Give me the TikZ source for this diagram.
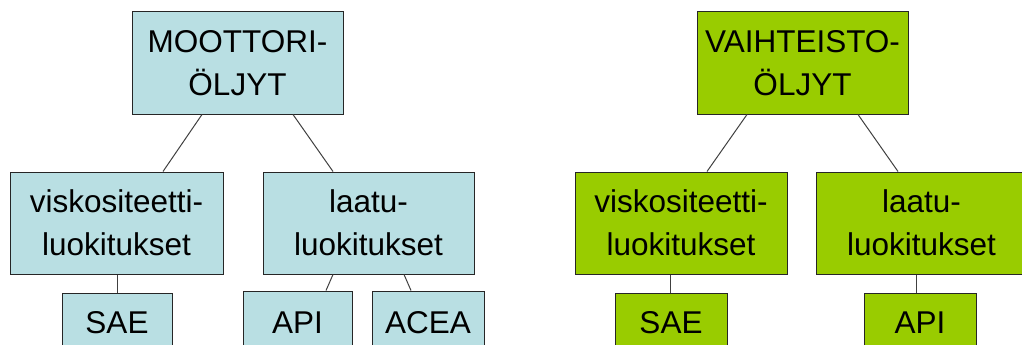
\documentclass[tikz,border=0pt]{standalone}
\usepackage{fontspec}
\setmainfont{Liberation Sans}
\definecolor{oilblue}{HTML}{B9DFE3}
\definecolor{oilgreen}{HTML}{99CC00}
\definecolor{linkgray}{HTML}{404040}
\tikzset{
  box/.style={draw=black!85, line width=1pt, inner sep=0pt, align=center,
    font=\fontsize{31.5}{43}\selectfont, anchor=center},
  bluebox/.style={box, fill=oilblue},
  greenbox/.style={box, fill=oilgreen},
  link/.style={draw=linkgray, line width=1pt}
}
\begin{document}
\begin{tikzpicture}[x=1pt, y=-1pt]
\useasboundingbox (0,0) rectangle (1022,345);
\clip (0,0) rectangle (1022,345);
% left tree
\node[bluebox, minimum width=211pt, minimum height=102pt] (m) at (237.5,63) {MOOTTORI-\\ÖLJYT};
\node[bluebox, minimum width=213pt, minimum height=102pt] (mv) at (116.5,223) {viskositeetti-\\luokitukset};
\node[bluebox, minimum width=211pt, minimum height=102pt] (ml) at (368.5,223) {laatu-\\luokitukset};
\node[bluebox, minimum width=110pt, minimum height=60pt] (msae) at (117,323) {SAE};
\node[bluebox, minimum width=109pt, minimum height=64pt] (mapi) at (297.5,323) {API};
\node[bluebox, minimum width=112pt, minimum height=64pt] (macea) at (428,323) {ACEA};
% right tree
\node[greenbox, minimum width=211pt, minimum height=102pt] (v) at (802.5,63) {VAIHTEISTO-\\ÖLJYT};
\node[greenbox, minimum width=212pt, minimum height=102pt] (vv) at (681,223) {viskositeetti-\\luokitukset};
\node[greenbox, minimum width=211pt, minimum height=102pt] (vl) at (921.5,223) {laatu-\\luokitukset};
\node[greenbox, minimum width=112pt, minimum height=60pt] (vsae) at (671,323) {SAE};
\node[greenbox, minimum width=112pt, minimum height=60pt] (vapi) at (920,323) {API};
% connectors
\draw[link] ([xshift=-35.5pt]m.south) -- ([xshift=46.5pt]mv.north);
\draw[link] ([xshift=55.5pt]m.south) -- ([xshift=-35.5pt]ml.north);
\draw[link] (msae.north) -- (msae.north |- mv.south);
\draw[link] ([xshift=-35.5pt]ml.south) -- ([xshift=28.5pt]mapi.north);
\draw[link] ([xshift=35.5pt]ml.south) -- ([xshift=-17pt]macea.north);
\draw[link] ([xshift=-55.5pt]v.south) -- ([xshift=26pt]vv.north);
\draw[link] ([xshift=55.5pt]v.south) -- ([xshift=-23.5pt]vl.north);
\draw[link] ([xshift=-1pt]vsae.north) -- ([xshift=-1pt]vsae.north |- vv.south);
\draw[link] ([xshift=-4pt]vapi.north) -- ([xshift=-4pt]vapi.north |- vl.south);
\end{tikzpicture}
\end{document}
